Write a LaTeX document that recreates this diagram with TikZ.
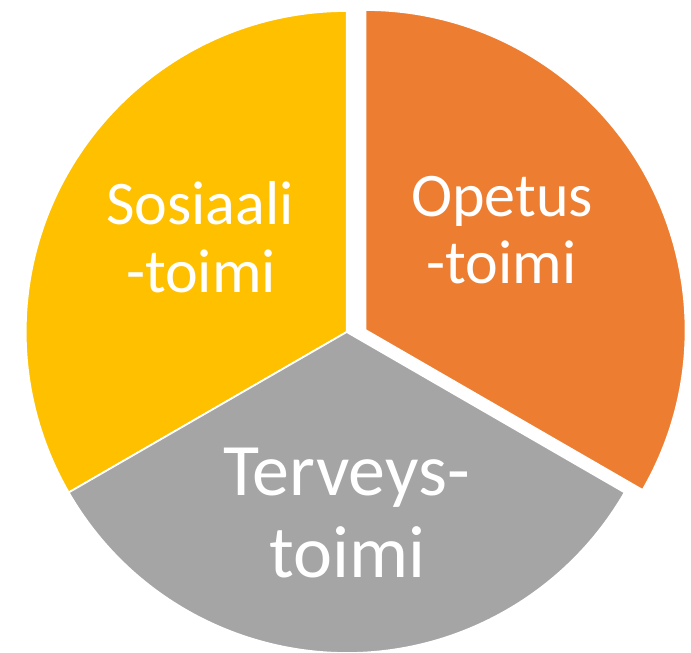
\documentclass[tikz,border=0pt]{standalone}
\usepackage{fontspec}
\setmainfont{Carlito}
\definecolor{sosiaali}{HTML}{FFC000}
\definecolor{opetus}{HTML}{ED7D31}
\definecolor{terveys}{HTML}{A5A5A5}

\begin{document}
\begin{tikzpicture}
		[every node/.style={text=white,inner sep=0pt,anchor=base},
		sektori/.style={draw=white,line width=1pt,line join=round},
		pieni/.style={font=\fontsize{35.3}{39}\selectfont},
		iso/.style={font=\fontsize{42.1}{46}\selectfont},
		]

		\useasboundingbox (0,0) rectangle (13.82,13.06);
		\coordinate (keski) at (6.934,6.42);
		\coordinate (irti) at (7.31,6.46);

		\filldraw[sektori,fill=sosiaali] (keski) -- ++(90:6.42)
			arc[start angle=90,end angle=210,radius=6.42] -- cycle;
		\filldraw[sektori,fill=terveys] (keski) -- ++(210:6.42)
			arc[start angle=210,end angle=330,radius=6.42] -- cycle;
		% irrotettu sektori
		\filldraw[sektori,fill=opetus] (irti) -- ++(-30:6.40)
			arc[start angle=-30,end angle=90,radius=6.40] -- cycle;

		\node[pieni] (sos1) at (4.00,8.56) {Sosiaali};
		\node[pieni] (sos2) at (4.02,7.20) {-toimi};
		\node[pieni] (ope1) at (10.04,8.72) {Opetus};
		\node[pieni] (ope2) at (10.03,7.38) {-toimi};
		\node[iso] (ter1) at (6.93,3.14) {Terveys-};
		\node[iso] (ter2) at (6.95,1.51) {toimi};
	\end{tikzpicture}
\end{document}
